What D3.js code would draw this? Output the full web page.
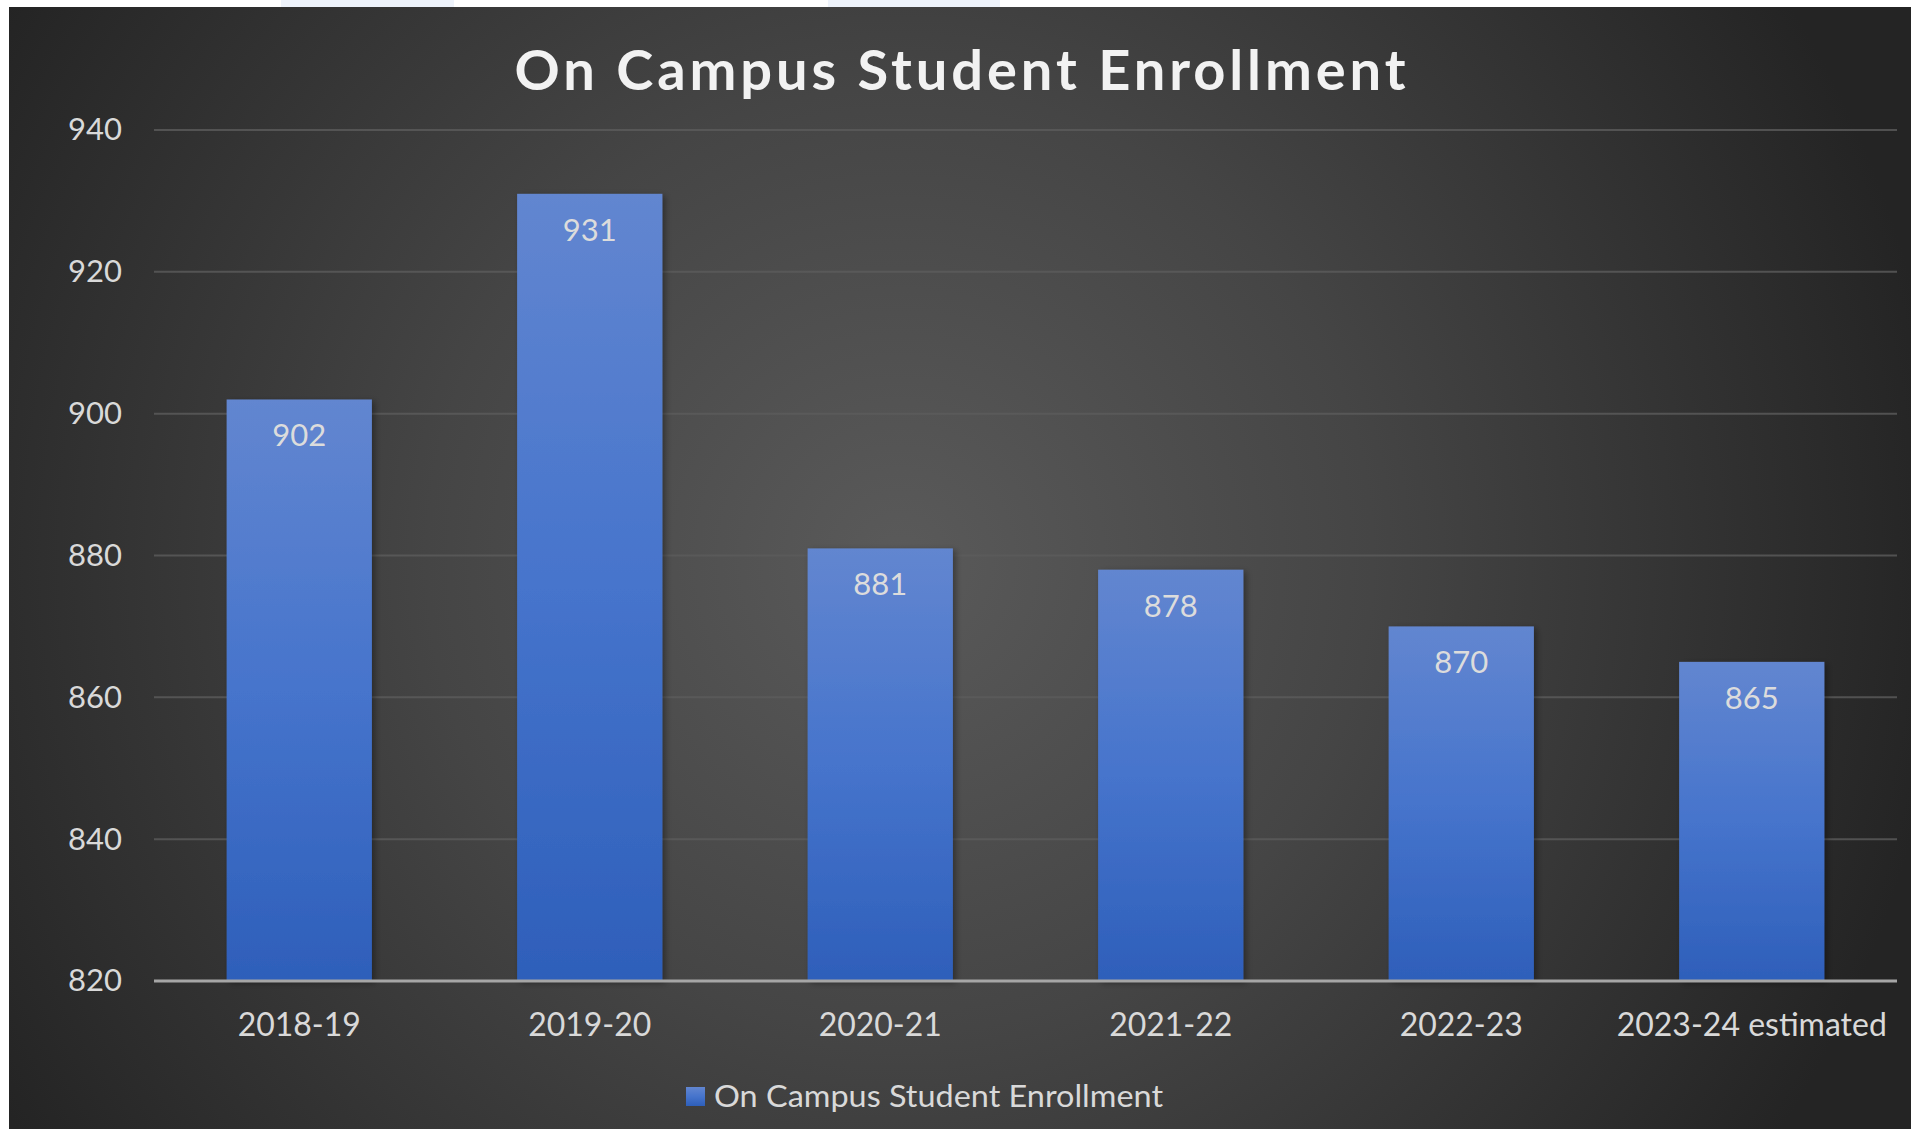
<!DOCTYPE html>
<html>
<head>
<meta charset="utf-8">
<script src="https://cdn.jsdelivr.net/npm/d3@7/dist/d3.min.js"></script>
<style>
  html, body { margin: 0; padding: 0; background: #ffffff; }
  svg { display: block; }
</style>
</head>
<body>
<svg id="chart" width="1917" height="1129"></svg>
<script>
const title = "On Campus Student Enrollment";
const categories = ["2018-19", "2019-20", "2020-21", "2021-22", "2022-23", "2023-24 estimated"];
const values = [902, 931, 881, 878, 870, 865];
const seriesName = "On Campus Student Enrollment";
const yTicks = [820, 840, 860, 880, 900, 920, 940];

(function () {
const W = 1917, H = 1129;
const svg = d3.select("#chart");
const defs = svg.append("defs");

const bg = defs.append("radialGradient").attr("id", "bgGrad")
  .attr("gradientUnits", "userSpaceOnUse")
  .attr("cx", 900).attr("cy", 560).attr("r", 1050);
bg.append("stop").attr("offset", "0%").attr("stop-color", "#5a5a5a");
bg.append("stop").attr("offset", "45%").attr("stop-color", "#454545");
bg.append("stop").attr("offset", "100%").attr("stop-color", "#242424");

const barGrad = defs.append("linearGradient").attr("id", "barGrad")
  .attr("x1", 0).attr("y1", 0).attr("x2", 0).attr("y2", 1);
barGrad.append("stop").attr("offset", "0%").attr("stop-color", "#6286d0");
barGrad.append("stop").attr("offset", "50%").attr("stop-color", "#4674cc");
barGrad.append("stop").attr("offset", "100%").attr("stop-color", "#2e5fba");

const shadow = defs.append("filter").attr("id", "shadow")
  .attr("x", "-10%").attr("y", "-10%").attr("width", "130%").attr("height", "130%");
shadow.append("feDropShadow").attr("dx", 3).attr("dy", 2).attr("stdDeviation", 3)
  .attr("flood-color", "#000").attr("flood-opacity", 0.35);

// light strips at very top
svg.append("rect").attr("x", 281).attr("y", 0).attr("width", 173).attr("height", 8).attr("fill", "#eef3fb");
svg.append("rect").attr("x", 828).attr("y", 0).attr("width", 172).attr("height", 8).attr("fill", "#eef3fb");

// chart background
svg.append("rect").attr("x", 9).attr("y", 7).attr("width", 1902).attr("height", H - 7)
  .attr("fill", "url(#bgGrad)");

const plotLeft = 154, plotRight = 1897, plotTop = 130, plotBottom = 981;

const x = d3.scaleBand().domain(categories).range([plotLeft, plotRight]).paddingInner(0.5).paddingOuter(0.25);
const y = d3.scaleLinear().domain([820, 940]).range([plotBottom, plotTop]);

// gridlines
svg.append("g").selectAll("line").data(yTicks.filter(t => t !== 820)).join("line")
  .attr("x1", plotLeft).attr("x2", plotRight)
  .attr("y1", d => y(d)).attr("y2", d => y(d))
  .attr("stroke", "#5c5c5c").attr("stroke-width", 2).attr("opacity", 0.8);

// y axis labels
const yAxis = d3.axisLeft(y).tickValues(yTicks).tickSize(0).tickPadding(32);
const gy = svg.append("g").attr("transform", `translate(${plotLeft},0)`).call(yAxis);
gy.select(".domain").remove();
gy.selectAll("text").attr("fill", "#d9d9d9").attr("font-family", "Lato, 'Open Sans', sans-serif")
  .attr("font-size", 31);

// bars
svg.append("g").selectAll("rect").data(values).join("rect")
  .attr("x", (d, i) => x(categories[i]))
  .attr("width", x.bandwidth())
  .attr("y", d => y(d))
  .attr("height", d => plotBottom - y(d))
  .attr("fill", "url(#barGrad)")
  .attr("filter", "url(#shadow)");

// data labels
svg.append("g").selectAll("text").data(values).join("text")
  .attr("x", (d, i) => x(categories[i]) + x.bandwidth() / 2)
  .attr("y", d => y(d) + 47)
  .attr("text-anchor", "middle")
  .attr("fill", "#dcdcdc")
  .attr("font-family", "Lato, 'Open Sans', sans-serif")
  .attr("font-size", 31)
  .text(d => d);

// x axis
const xAxis = d3.axisBottom(x).tickSize(0).tickPadding(32);
const gx = svg.append("g").attr("transform", `translate(0,${plotBottom})`).call(xAxis);
gx.select(".domain").attr("d", `M${plotLeft},0H${plotRight}`).attr("stroke", "#a6a6a6").attr("stroke-width", 3);
gx.selectAll("text").attr("fill", "#d9d9d9").attr("font-family", "Lato, 'Open Sans', sans-serif")
  .attr("font-size", 32);

// title
svg.append("text")
  .attr("x", 960).attr("y", 90)
  .attr("text-anchor", "middle")
  .attr("fill", "#f2f2f2")
  .attr("font-family", "Lato, 'Open Sans', sans-serif")
  .attr("font-weight", "bold")
  .attr("font-size", 56)
  .attr("textLength", 891)
  .attr("lengthAdjust", "spacing")
  .text(title);

// legend
const lg = svg.append("g");
lg.append("rect").attr("x", 686).attr("y", 1087).attr("width", 19).attr("height", 19)
  .attr("fill", "url(#barGrad)");
lg.append("text").attr("x", 714).attr("y", 1107)
  .attr("fill", "#d9d9d9")
  .attr("font-family", "Lato, 'Open Sans', sans-serif")
  .attr("font-size", 30)
  .attr("textLength", 449)
  .attr("lengthAdjust", "spacingAndGlyphs")
  .text(seriesName);
})();
</script>
</body>
</html>
